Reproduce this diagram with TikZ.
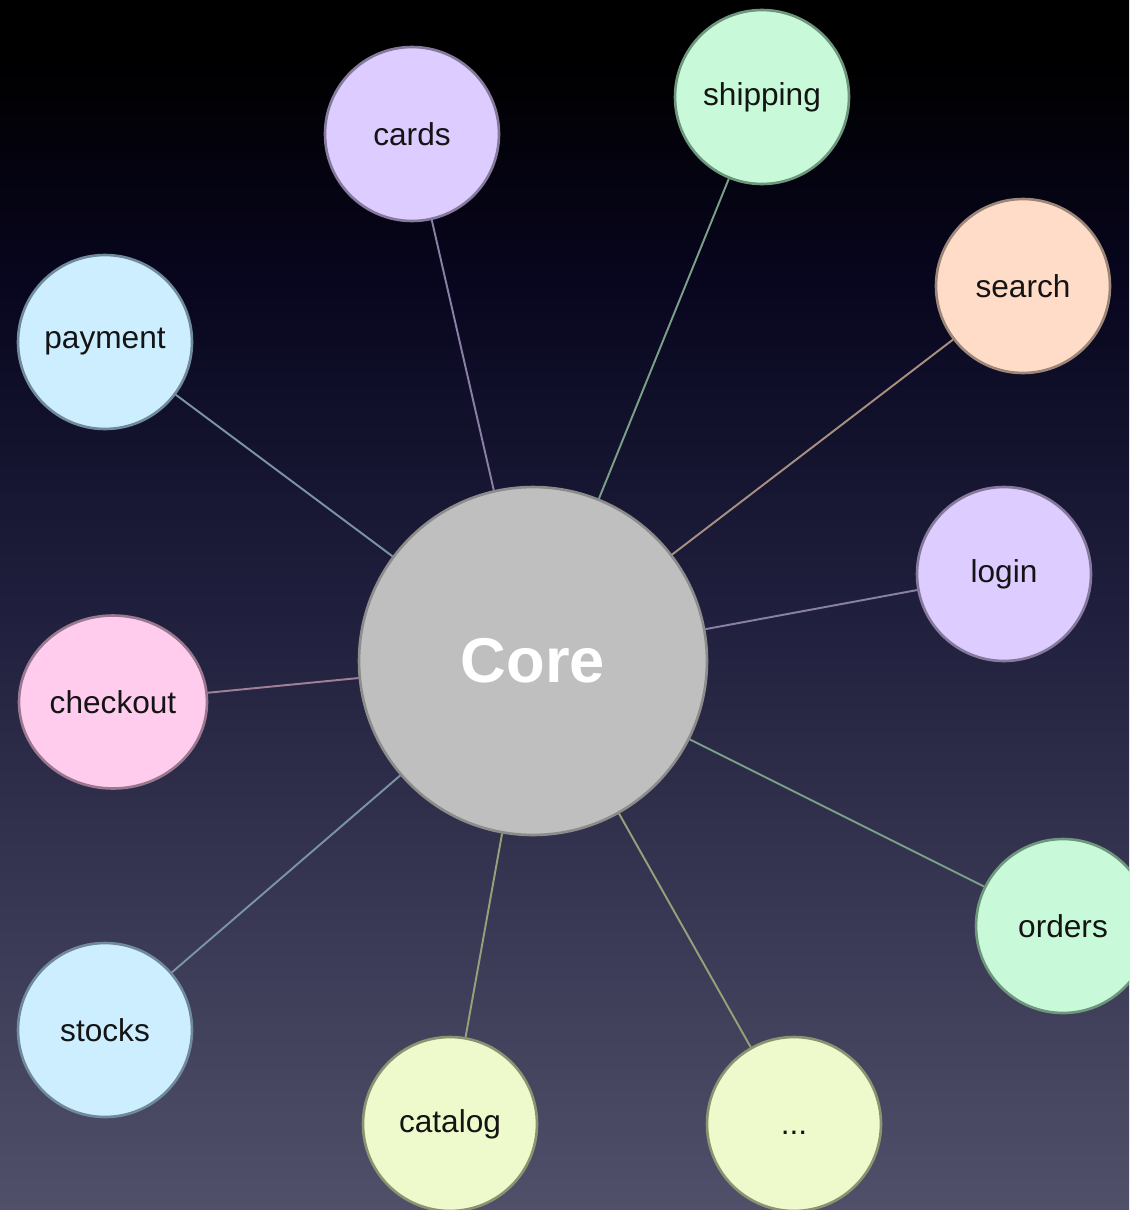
\documentclass[tikz,border=0pt]{standalone}
\usepackage{fontspec}
\setmainfont{Liberation Sans}
\usetikzlibrary{shapes.geometric}
\definecolor{bgA}{HTML}{50506A}
\definecolor{bgB}{HTML}{1E1E3C}
\definecolor{bgC}{HTML}{08061E}
\definecolor{bgD}{HTML}{000000}
\pgfdeclareverticalshading{bgshade}{100bp}{color(0bp)=(bgA); color(25bp)=(bgA); color(50.6bp)=(bgB); color(63.4bp)=(bgC); color(72.5bp)=(bgD); color(100bp)=(bgD)}
\definecolor{lavF}{HTML}{DCCCFF}\definecolor{lavD}{HTML}{85799C}\definecolor{lavE}{HTML}{8A80A6}
\definecolor{mintF}{HTML}{C8FADA}\definecolor{mintD}{HTML}{6E967C}\definecolor{mintE}{HTML}{7AA088}
\definecolor{peachF}{HTML}{FFDCC8}\definecolor{peachD}{HTML}{9C8678}\definecolor{peachE}{HTML}{A89080}
\definecolor{blueF}{HTML}{CCEEFF}\definecolor{blueD}{HTML}{708A9C}\definecolor{blueE}{HTML}{7A94A6}
\definecolor{pinkF}{HTML}{FFCCEE}\definecolor{pinkD}{HTML}{9A7890}\definecolor{pinkE}{HTML}{A08098}
\definecolor{limeF}{HTML}{EEFACC}\definecolor{limeD}{HTML}{8A9470}\definecolor{limeE}{HTML}{98A07A}
\definecolor{coreF}{HTML}{BFBFBF}\definecolor{coreD}{HTML}{8C8C8C}
\begin{document}
\begin{tikzpicture}[x=0.02cm,y=-0.02cm,
  svc/.style={circle,minimum size=3.48cm,inner sep=0pt,line width=1.5pt,
    font=\fontsize{18}{20}\selectfont,text=black!92},
  lav/.style={svc,fill=lavF,draw=lavD},
  mint/.style={svc,fill=mintF,draw=mintD},
  peach/.style={svc,fill=peachF,draw=peachD},
  blu/.style={svc,fill=blueF,draw=blueD},
  lime/.style={svc,fill=limeF,draw=limeD},
  pnk/.style={svc,ellipse,minimum width=3.76cm,minimum height=3.46cm,fill=pinkF,draw=pinkD},
  corenode/.style={circle,minimum size=6.96cm,inner sep=0pt,fill=coreF,draw=coreD,line width=1.5pt,
    font=\fontsize{36}{40}\selectfont\bfseries,text=white},
  link/.style={line width=1.1pt}]
\useasboundingbox (0,0) rectangle (1129,1210);
\clip (0,0) rectangle (1129,1210);
\shade[shading=bgshade] (0,0) rectangle (1129,1210);
\node[corenode] (core) at (533,661) {Core};
\node[lav] (cards) at (412,134) {cards};
\node[mint] (shipping) at (762,97) {shipping};
\node[peach] (search) at (1023,286) {search};
\node[blu] (payment) at (105,342) {payment};
\node[lav] (login) at (1004,574) {login};
\node[pnk] (checkout) at (113,702) {checkout};
\node[mint] (orders) at (1063,926) {orders};
\node[blu] (stocks) at (105,1030) {stocks};
\node[lime] (catalog) at (450,1124) {catalog};
\node[lime] (more) at (794,1124) {\vphantom{A}...};
\draw[link,lavE] (core) -- (cards);
\draw[link,mintE] (core) -- (shipping);
\draw[link,peachE] (core) -- (search);
\draw[link,blueE] (core) -- (payment);
\draw[link,lavE] (core) -- (login);
\draw[link,pinkE] (core) -- (checkout);
\draw[link,mintE] (core) -- (orders);
\draw[link,blueE] (core) -- (stocks);
\draw[link,limeE] (core) -- (catalog);
\draw[link,limeE] (core) -- (more);
\end{tikzpicture}
\end{document}
